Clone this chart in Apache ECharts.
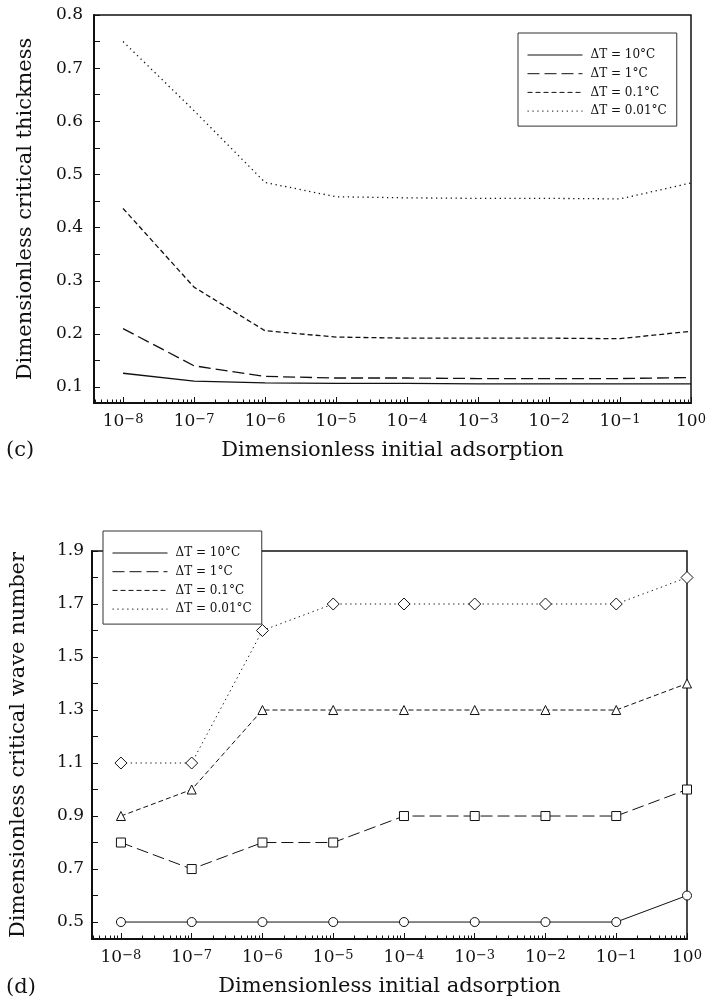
<!DOCTYPE html>
<html>
<head>
<meta charset="utf-8">
<script src="https://cdn.jsdelivr.net/npm/echarts@6/dist/echarts.min.js"></script>
<style>
  html, body { margin: 0; padding: 0; background: #fff; width: 709px; height: 1002px; overflow: hidden; }
  .panel { position: absolute; left: 0; width: 709px; }
  #panelC { top: 0; height: 480px; }
  #panelD { top: 480px; height: 522px; }
</style>
</head>
<body>
<div id="panelC" class="panel"></div>
<div id="panelD" class="panel"></div>
<script>
// Dimensionless initial adsorption (x positions, one decade apart)
const adsorption = [1e-8, 1e-7, 1e-6, 1e-5, 1e-4, 1e-3, 1e-2, 1e-1, 1];
const seriesNames = ['ΔT = 10°C', 'ΔT = 1°C', 'ΔT = 0.1°C', 'ΔT = 0.01°C'];

// (c) Dimensionless critical thickness
const thickness10 = [0.126, 0.111, 0.108, 0.107, 0.107, 0.106, 0.106, 0.106, 0.106];
const thickness1 = [0.210, 0.140, 0.120, 0.117, 0.117, 0.116, 0.116, 0.116, 0.118];
const thickness01 = [0.436, 0.288, 0.206, 0.194, 0.192, 0.192, 0.192, 0.191, 0.205];
const thickness001 = [0.750, 0.620, 0.485, 0.458, 0.456, 0.455, 0.455, 0.454, 0.484];

// (d) Dimensionless critical wave number
const wave10 = [0.5, 0.5, 0.5, 0.5, 0.5, 0.5, 0.5, 0.5, 0.6];
const wave1 = [0.8, 0.7, 0.8, 0.8, 0.9, 0.9, 0.9, 0.9, 1.0];
const wave01 = [0.9, 1.0, 1.3, 1.3, 1.3, 1.3, 1.3, 1.3, 1.4];
const wave001 = [1.1, 1.1, 1.6, 1.7, 1.7, 1.7, 1.7, 1.7, 1.8];

// Tick labels
const thicknessLabels = [0.1, 0.2, 0.3, 0.4, 0.5, 0.6, 0.7, 0.8];
const thicknessTicks = [0.1, 0.15, 0.2, 0.25, 0.3, 0.35, 0.4, 0.45, 0.5, 0.55, 0.6, 0.65, 0.7, 0.75, 0.8];
const waveLabels = [0.5, 0.7, 0.9, 1.1, 1.3, 1.5, 1.7, 1.9];
const waveTicks = [0.5, 0.6, 0.7, 0.8, 0.9, 1.0, 1.1, 1.2, 1.3, 1.4, 1.5, 1.6, 1.7, 1.8, 1.9];
const decadeLabels = adsorption;

const X_MIN = 3.9e-9;
const INK = '#111';
const FONT = 'DejaVu Serif';

// minor log ticks: 2..9 x 10^n inside the axis range
const minorDecadeTicks = [];
for (let e = -9; e <= -1; e++) {
  for (let m = 2; m <= 9; m++) {
    const v = m * Math.pow(10, e);
    if (v >= X_MIN && v < 1) minorDecadeTicks.push(v);
  }
}

function powLabel(v) {
  const e = Math.round(Math.log10(v));
  return '{b|10}{s|' + (e < 0 ? '\u2212' + (-e) : String(e)) + '}';
}

const dashes = ['solid', [12, 5], [5, 3], [1.3, 3.6]];
const markers = [
  { symbol: 'circle', size: 9 },
  { symbol: 'rect', size: 9 },
  { symbol: 'triangle', size: 9 },
  { symbol: 'diamond', size: [12, 12] }
];

function buildPanel(el, cfg) {
  const chart = echarts.init(el, null, { renderer: 'canvas' });
  const pairs = (ys) => ys.map((y, i) => [adsorption[i], y]);
  const series = cfg.values.map((ys, i) => ({
    name: seriesNames[i],
    type: 'line',
    xAxisIndex: 0,
    yAxisIndex: 0,
    data: pairs(ys),
    symbol: cfg.markers ? markers[i].symbol : 'none',
    symbolSize: cfg.markers ? markers[i].size : 0,
    showSymbol: !!cfg.markers,
    itemStyle: { color: '#fff', borderColor: INK, borderWidth: 1 },
    lineStyle: { color: INK, width: cfg.lineWidth, type: dashes[i] },
    emphasis: { disabled: true },
    z: 3
  }));

  chart.setOption({
    animation: false,
    backgroundColor: '#fff',
    textStyle: { fontFamily: FONT, color: INK },
    grid: {
      left: cfg.grid.left, top: cfg.grid.top, width: cfg.grid.width, height: cfg.grid.height,
      show: true, borderColor: INK, borderWidth: 1.5, backgroundColor: 'transparent'
    },
    legend: {
      orient: 'vertical',
      left: cfg.legend.left,
      top: cfg.legend.top,
      align: 'left',
      padding: [16, 10, 9, 9],
      itemWidth: 55,
      itemHeight: 12,
      itemGap: 6.7,
      backgroundColor: '#fff',
      borderColor: '#333',
      borderWidth: 1,
      borderRadius: 0,
      selectedMode: false,
      itemStyle: { opacity: 0 },
      lineStyle: { width: 1 },
      textStyle: { fontFamily: FONT, fontSize: 12, color: INK, padding: [0, 0, 0, 3] },
      data: seriesNames,
      z: 10
    },
    xAxis: [
      {
        type: 'log', logBase: 10, min: X_MIN, max: 1, position: 'bottom',
        name: 'Dimensionless initial adsorption', nameLocation: 'middle', nameGap: 37,
        nameTextStyle: { fontFamily: FONT, fontSize: 21, color: INK },
        axisLine: { onZero: false, lineStyle: { color: INK, width: 2 } },
        axisTick: { inside: true, length: 6, customValues: decadeLabels, lineStyle: { color: INK, width: 1 } },
        axisLabel: {
          customValues: decadeLabels, formatter: powLabel, margin: 10, color: INK,
          rich: {
            b: { fontFamily: FONT, fontSize: 17, lineHeight: 17, verticalAlign: 'bottom', color: INK },
            s: { fontFamily: FONT, fontSize: 13, lineHeight: 12, verticalAlign: 'top', color: INK }
          }
        },
        splitLine: { show: false }, minorTick: { show: false }
      },
      {
        type: 'log', logBase: 10, min: X_MIN, max: 1, position: 'bottom',
        axisLine: { show: false },
        axisTick: { inside: true, length: 3.5, customValues: minorDecadeTicks, lineStyle: { color: INK, width: 1 } },
        axisLabel: { show: false },
        splitLine: { show: false }
      }
    ],
    yAxis: {
      type: 'value', min: cfg.y.min, max: cfg.y.max, position: 'left',
      name: cfg.y.name, nameLocation: 'middle', nameGap: cfg.y.nameGap,
      nameTextStyle: { fontFamily: FONT, fontSize: 21, color: INK },
      axisLine: { onZero: false, lineStyle: { color: INK, width: 2 } },
      axisTick: { inside: true, length: 6, customValues: cfg.y.ticks, lineStyle: { color: INK, width: 1 } },
      axisLabel: {
        customValues: cfg.y.labels, margin: cfg.y.labelMargin, color: INK,
        fontFamily: FONT, fontSize: 17, formatter: (v) => v.toFixed(1)
      },
      splitLine: { show: false }
    },
    graphic: [{
      type: 'text', left: 6, top: cfg.panelLabelTop,
      style: { text: cfg.panelLabel, fontFamily: FONT, fontSize: 21, fill: INK }
    }],
    series: series
  });
  return chart;
}

buildPanel(document.getElementById('panelC'), {
  grid: { left: 94, top: 15, width: 597, height: 388 },
  legend: { left: 518, top: 33 },
  y: { min: 0.07, max: 0.8, name: 'Dimensionless critical thickness', nameGap: 58, labels: thicknessLabels, ticks: thicknessTicks, labelMargin: 11 },
  values: [thickness10, thickness1, thickness01, thickness001],
  markers: false,
  lineWidth: 1.3,
  panelLabel: '(c)',
  panelLabelTop: 440
});

buildPanel(document.getElementById('panelD'), {
  grid: { left: 90, top: 71, width: 597, height: 389 },
  legend: { left: 103, top: 51 },
  y: { min: 0.436, max: 1.9, name: 'Dimensionless critical wave number', nameGap: 63, labels: waveLabels, ticks: waveTicks, labelMargin: 8 },
  values: [wave10, wave1, wave01, wave001],
  markers: true,
  lineWidth: 1,
  panelLabel: '(d)',
  panelLabelTop: 497
});
</script>
</body>
</html>
